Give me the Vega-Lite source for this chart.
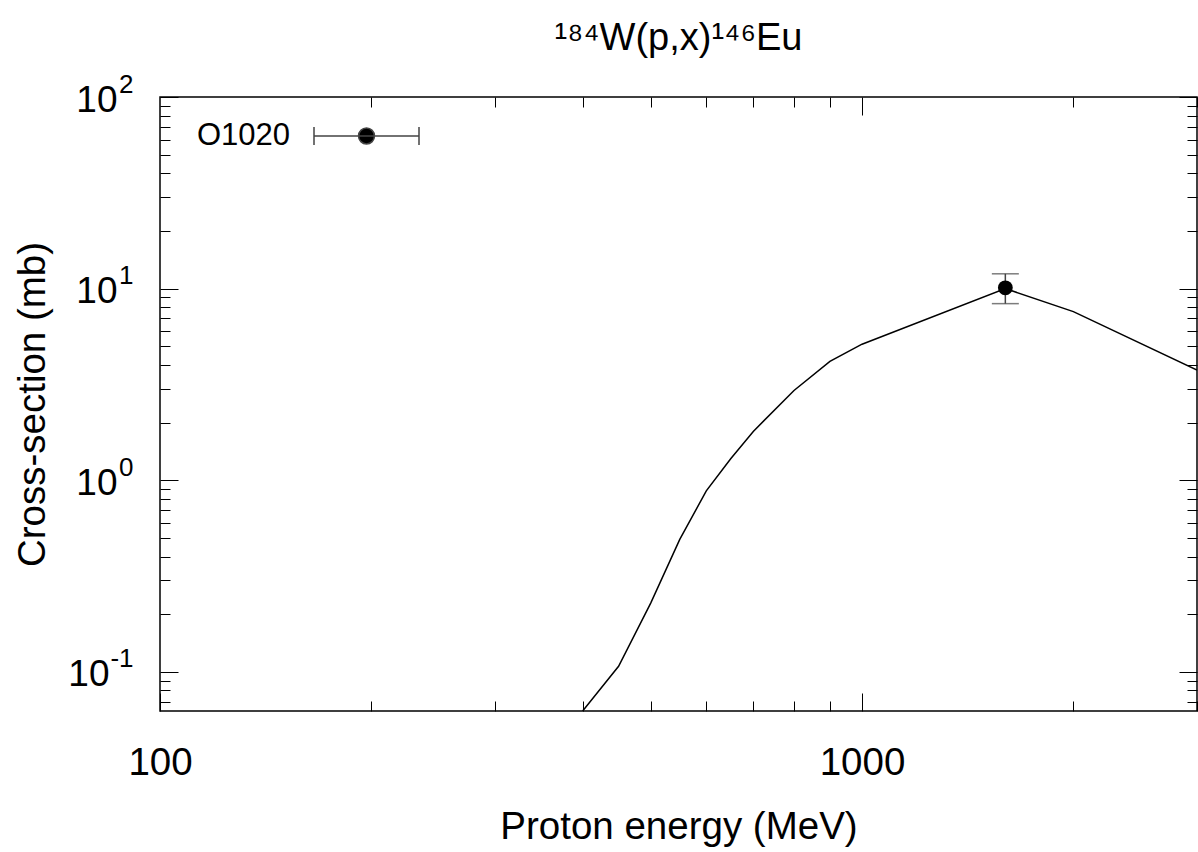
{
  "$schema": "https://vega.github.io/schema/vega-lite/v6.json",
  "width": 1037,
  "height": 614,
  "autosize": "none",
  "padding": {"left": 160, "top": 97, "right": 1, "bottom": 141},
  "background": "white",
  "config": {
    "view": {"stroke": "black", "strokeWidth": 1.5},
    "font": "Liberation Sans",
    "axis": {"labelFont": "Liberation Sans", "titleFont": "Liberation Sans", "labelColor": "black", "titleColor": "black", "tickColor": "black", "titleFontWeight": "normal", "domain": false, "grid": false, "labelOverlap": false, "labelFlush": false}
  },
  "title": {"text": "¹⁸⁴W(p,x)¹⁴⁶Eu", "fontSize": 38, "font": "Liberation Sans", "fontWeight": "normal", "color": "black", "offset": 13, "anchor": "middle"},
  "datasets": {
    "curve": [
      {"E": 400, "xs": 0.0625},
      {"E": 450, "xs": 0.107},
      {"E": 500, "xs": 0.2285},
      {"E": 550, "xs": 0.491},
      {"E": 600, "xs": 0.88},
      {"E": 650, "xs": 1.296},
      {"E": 700, "xs": 1.798},
      {"E": 800, "xs": 2.94},
      {"E": 900, "xs": 4.17},
      {"E": 1000, "xs": 5.13},
      {"E": 1600, "xs": 10.0},
      {"E": 2000, "xs": 7.59},
      {"E": 3000, "xs": 3.76}
    ],
    "exp": [{"src": "O1020", "E": 1600, "xs": 10.1, "lo": 8.35, "hi": 11.95}]
  },
  "layer": [
    {
      "data": {"name": "curve"},
      "mark": {"type": "line", "color": "black", "strokeWidth": 1.5, "clip": true},
      "encoding": {
        "x": {"field": "E", "type": "quantitative",
          "scale": {"type": "log", "domain": [100, 3000], "nice": false},
          "axis": {"orient": "bottom",
            "values": [100, 200, 300, 400, 500, 600, 700, 800, 900, 1000, 2000, 3000],
            "labelExpr": "datum.value == 100 ? '100' : datum.value == 1000 ? '1000' : ''",
            "tickSize": {"condition": {"test": "datum.value == 100 || datum.value == 1000", "value": -18}, "value": -10},
            "tickWidth": 1,
            "labelFontSize": 38.5, "labelPadding": 51,
            "title": "Proton energy (MeV)", "titleFontSize": 38.5, "titlePadding": 19}},
        "y": {"field": "xs", "type": "quantitative",
          "scale": {"type": "log", "domain": [0.0625, 100], "nice": false},
          "axis": {"orient": "left",
            "values": [0.07, 0.08, 0.09, 0.1, 0.2, 0.3, 0.4, 0.5, 0.6, 0.7, 0.8, 0.9, 1, 2, 3, 4, 5, 6, 7, 8, 9, 10, 20, 30, 40, 50, 60, 70, 80, 90, 100],
            "labels": false, "title": null,
            "tickSize": {"condition": {"test": "datum.value == 0.1 || datum.value == 1 || datum.value == 10 || datum.value == 100", "value": -18}, "value": -10},
            "tickWidth": 1}}
      }
    },
    {
      "data": {"name": "exp"},
      "mark": {"type": "rule", "color": "#444", "strokeWidth": 1.5},
      "encoding": {
        "x": {"field": "E", "type": "quantitative", "axis": null},
        "y": {"field": "lo", "type": "quantitative",
          "axis": {"orient": "left", "values": [0.1, 1, 10, 100], "ticks": false,
            "labelExpr": "'10'",
            "labelFontSize": 37, "labelOffset": 3,
            "labelPadding": {"condition": {"test": "datum.value == 0.1", "value": 51}, "value": 43},
            "title": "Cross-section (mb)", "titleFontSize": 38.5, "titlePadding": 15}},
        "y2": {"field": "hi"}
      }
    },
    {
      "data": {"name": "exp"},
      "mark": {"type": "tick", "color": "#444", "orient": "horizontal", "size": 27, "thickness": 1.5},
      "encoding": {
        "x": {"field": "E", "type": "quantitative", "axis": null},
        "y": {"field": "lo", "type": "quantitative",
          "axis": {"orient": "left", "values": [0.1, 1, 10, 100], "ticks": false,
            "labelExpr": "datum.value == 0.1 ? '-1' : datum.value == 1 ? '0' : datum.value == 10 ? '1' : '2'",
            "labelFontSize": 26, "labelOffset": -13, "labelPadding": 27, "title": null}}
      }
    },
    {
      "data": {"name": "exp"},
      "mark": {"type": "tick", "color": "#444", "orient": "horizontal", "size": 27, "thickness": 1.5},
      "encoding": {
        "x": {"field": "E", "type": "quantitative", "axis": null},
        "y": {"field": "hi", "type": "quantitative", "axis": null}
      }
    },
    {
      "data": {"name": "exp"},
      "mark": {"type": "point", "filled": true, "size": 220, "opacity": 1},
      "encoding": {
        "x": {"field": "E", "type": "quantitative",
          "axis": {"orient": "top",
            "values": [200, 300, 400, 500, 600, 700, 800, 900, 1000, 2000, 3000],
            "labels": false, "title": null,
            "tickSize": {"condition": {"test": "datum.value == 1000", "value": -18}, "value": -10},
            "tickWidth": 1}},
        "y": {"field": "xs", "type": "quantitative",
          "axis": {"orient": "right",
            "values": [0.07, 0.08, 0.09, 0.1, 0.2, 0.3, 0.4, 0.5, 0.6, 0.7, 0.8, 0.9, 1, 2, 3, 4, 5, 6, 7, 8, 9, 10, 20, 30, 40, 50, 60, 70, 80, 90, 100],
            "labels": false, "title": null,
            "tickSize": {"condition": {"test": "datum.value == 0.1 || datum.value == 1 || datum.value == 10 || datum.value == 100", "value": -18}, "value": -10},
            "tickWidth": 1}},
        "color": {"field": "src", "type": "nominal",
          "scale": {"range": ["black"]},
          "legend": {"orient": "none", "legendX": 153, "legendY": -14.5, "title": null, "padding": 0,
            "symbolType": "M-1,0H1M-1,-0.17V0.17M1,-0.17V0.17M-0.152,0A0.152,0.152,0,1,0,0.152,0A0.152,0.152,0,1,0,-0.152,0Z",
            "symbolSize": 11025, "symbolStrokeColor": "#444", "symbolStrokeWidth": 1.5, "symbolOffset": 0,
            "labelFontSize": 31, "labelFont": "Liberation Sans", "labelColor": "black", "labelAlign": "right", "labelOffset": -130, "labelLimit": 0}}
      }
    }
  ]
}
